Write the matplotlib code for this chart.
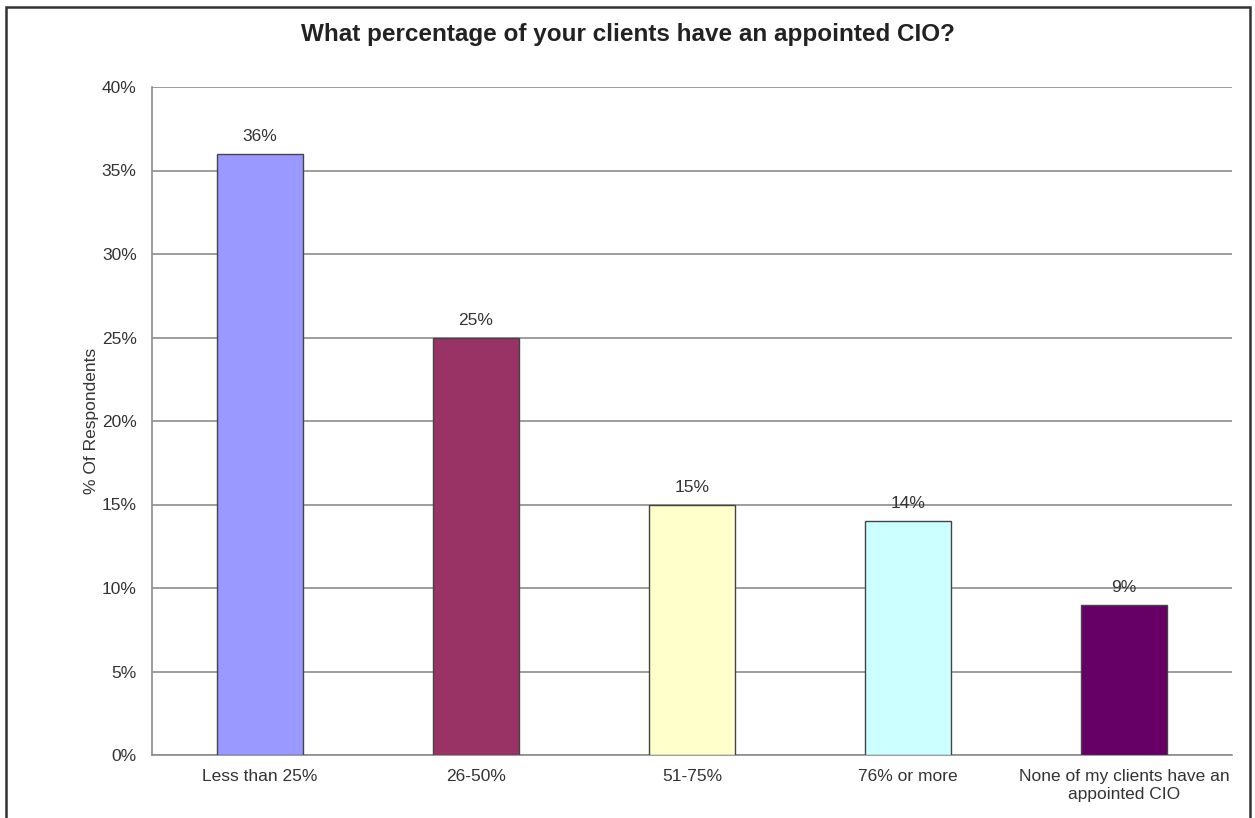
import matplotlib
matplotlib.use("Agg")
import matplotlib.pyplot as plt
from matplotlib.patches import Rectangle
from matplotlib.ticker import FuncFormatter

categories = ["Less than 25%", "26-50%", "51-75%", "76% or more",
              "None of my clients have an\nappointed CIO"]
values = [36, 25, 15, 14, 9]
colors = ["#9999FF", "#993366", "#FFFFCC", "#CCFFFF", "#660066"]
yticks = [0, 5, 10, 15, 20, 25, 30, 35, 40]

plt.rcParams["font.family"] = ["Liberation Sans", "DejaVu Sans"]
text_color = "#333333"

fig = plt.figure(figsize=(12.55, 8.18), dpi=100)
ax = fig.add_axes([152 / 1255, 63 / 818, 1080 / 1255, 668 / 818])

x = range(len(categories))
ax.bar(x, values, width=0.4, color=colors, edgecolor="#444444",
       linewidth=1.0, zorder=3)

for xi, v in zip(x, values):
    ax.annotate(f"{v}%", (xi, v), xytext=(0, 7), textcoords="offset points",
                ha="center", va="bottom", fontsize=12.5, color=text_color)

ax.set_xlim(-0.5, len(categories) - 0.5)
ax.set_ylim(0, 40)
ax.set_yticks(yticks)
ax.yaxis.set_major_formatter(FuncFormatter(lambda v, _: f"{v:.0f}%"))
ax.set_xticks(list(x))
ax.set_xticklabels(categories, fontsize=12.5, color=text_color, linespacing=1.25)
ax.tick_params(axis="y", labelsize=12.5, labelcolor=text_color, length=0, pad=11)
ax.tick_params(axis="x", length=0, pad=10)

ax.grid(axis="y", color="#8c8c8c", linewidth=1.2, zorder=0)
ax.set_axisbelow(True)
for side in ("top", "right"):
    ax.spines[side].set_visible(False)
for side in ("left", "bottom"):
    ax.spines[side].set_color("#8c8c8c")
    ax.spines[side].set_linewidth(1.2)

ax.set_ylabel("% Of Respondents", fontsize=12.5, color=text_color, labelpad=2)

fig.text(0.5, 1 - 35 / 818, "What percentage of your clients have an appointed CIO?",
         ha="center", va="center", fontsize=17.5, fontweight="bold", color="#222222")

# chart frame
fig.patches.append(Rectangle((6 / 1255, -0.05), 1244 / 1255, 1 - 7 / 818 + 0.05,
                             transform=fig.transFigure, fill=False,
                             edgecolor="#333333", linewidth=1.8))

fig.savefig("out.png", dpi=100, facecolor="white")
